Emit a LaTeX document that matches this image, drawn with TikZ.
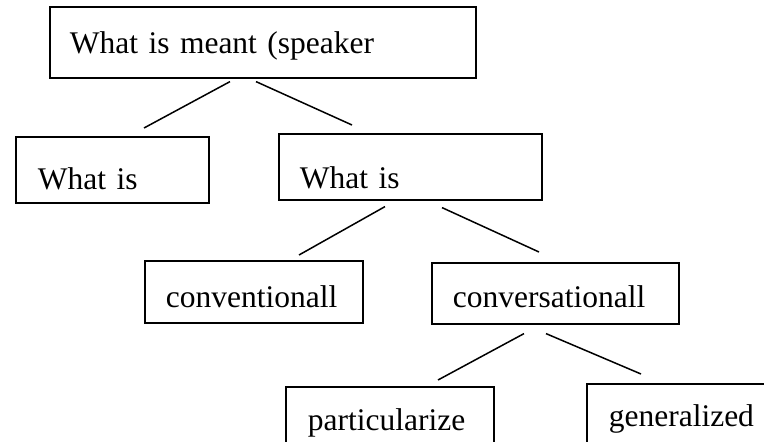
\documentclass[tikz,border=0pt]{standalone}
\usepackage{fontspec}
\setmainfont{Liberation Serif}
\usetikzlibrary{calc}
\begin{document}
\begin{tikzpicture}[x=1pt,y=-1pt,
  box/.style={draw, line width=1.6pt, anchor=north west, inner ysep=0pt, align=left,
    font=\fontsize{31.5}{38}\selectfont},
  link/.style={line width=1.5pt}]
\useasboundingbox (0,0) rectangle (764,442);
\clip (0,0) rectangle (764,442);
\node[box, inner xsep=20pt, text width=386pt, text height=47pt, text depth=24pt] (b1) at (49,6) {What is meant (speaker};
\node[box, inner xsep=22pt, text width=149pt, text height=53pt, text depth=13pt] (b2) at (15,136) {What is};
\node[box, inner xsep=21pt, text width=221pt, text height=55pt, text depth=11pt] (b3) at (278,133) {What is};
\node[box, inner xsep=21pt, text width=176pt, text height=47pt, text depth=15pt] (b4) at (144,260) {conventionall};
\node[box, inner xsep=21pt, text width=205pt, text height=45pt, text depth=16pt] (b5) at (431,262) {conversationall};
\node[box, inner xsep=22pt, text width=164pt, text height=44pt, text depth=40pt] (b6) at (285,386) {particularize};
\node[box, inner xsep=22pt, text width=170pt, text height=43pt, text depth=44pt] (b7) at (586,383) {generalized};
\draw[link] ($(b1.south west)+(181,3)$) -- ($(b2.north west)+(129,-8)$);
\draw[link] ($(b1.south west)+(207,3)$) -- ($(b3.north west)+(74,-8)$);
\draw[link] ($(b3.south west)+(107,6)$) -- ($(b4.north west)+(155,-5)$);
\draw[link] ($(b3.south west)+(164,7)$) -- ($(b5.north west)+(108,-10)$);
\draw[link] ($(b5.south west)+(93,9)$) -- ($(b6.north west)+(153,-6)$);
\draw[link] ($(b5.south west)+(115,9)$) -- ($(b7.north west)+(55,-9)$);
\end{tikzpicture}
\end{document}
